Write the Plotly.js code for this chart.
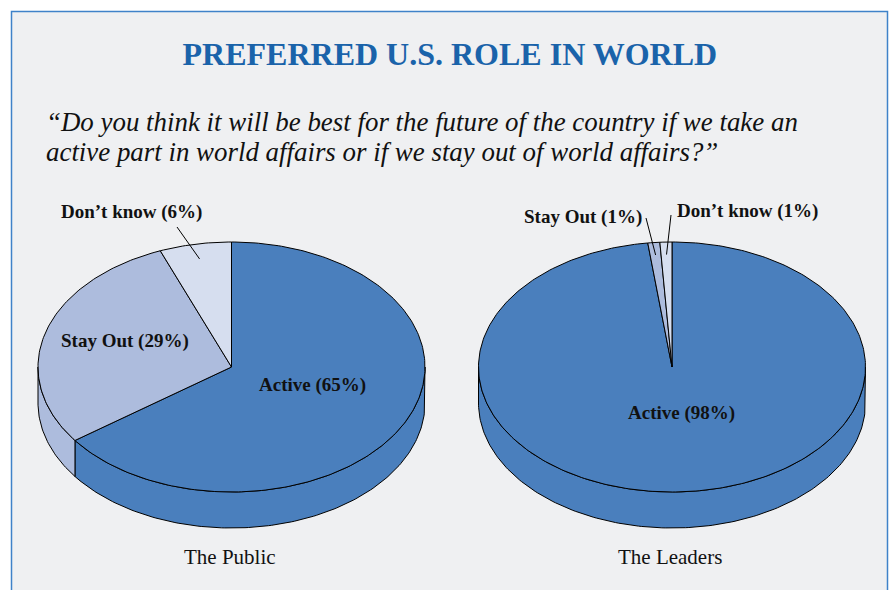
<!DOCTYPE html>
<html>
<head>
<meta charset="utf-8">
<script src="https://cdn.plot.ly/plotly-3.0.1.min.js"></script>
<style>
html,body{margin:0;padding:0;background:#ffffff;}
#chart{width:889px;height:590px;}
</style>
</head>
<body>
<div id="chart"></div>
<script>
// ---- data ----
const categories = ['Active', 'Stay Out', 'Don\u2019t know'];
const publicValues = [65, 29, 6];
const leaderValues = [98, 1, 1];
const pieNames = ['The Public', 'The Leaders'];
const chartTitle = 'PREFERRED U.S. ROLE IN WORLD';
const questionLines = [
  '\u201cDo you think it will be best for the future of the country if we take an',
  'active part in world affairs or if we stay out of world affairs?\u201d'
];

// ---- styles / geometry ----
const sliceColors = ['#4a7fbd', '#adbcdd', '#d6deef'];
const serif = 'Liberation Serif, Times New Roman, serif';
const pies = [
  {values: publicValues, name: pieNames[0], cx: 231.5, cy: 367, rx: 193.5, ry: 125, depth: 36,
   labels: [{x: 312, y: 385}, {x: 124.5, y: 341}, {x: 131.5, y: 212}],
   leaders: [null, null, {x: 177, y: 227, r: 0.88}], nameY: 557},
  {values: leaderValues, name: pieNames[1], cx: 672, cy: 367, rx: 193.5, ry: 125, depth: 36,
   labels: [{x: 681.5, y: 413}, {x: 583, y: 217}, {x: 747.5, y: 211}],
   leaders: [null, {x: 646, y: 218, r: 0.9}, {x: 671, y: 215, r: 0.9}], nameY: 557}
];

const traces = [];
const annotations = [];
const rad = d => d * Math.PI / 180;

pies.forEach(p => {
  const total = p.values.reduce((a, b) => a + b, 0);
  let start = 90;
  const slices = p.values.map((v, i) => {
    const sweep = v / total * 360;
    const s = {i: i, hi: start, lo: start - sweep};
    start -= sweep;
    return s;
  });
  const px = t => p.cx + p.rx * Math.cos(rad(t));
  const py = t => p.cy - p.ry * Math.sin(rad(t));

  // side walls (front half: angles -180..0)
  slices.forEach(s => {
    const lo = Math.max(s.lo, -180), hi = Math.min(s.hi, 0);
    if (hi <= lo) return;
    const xs = [], ys = [];
    const n = Math.max(2, Math.ceil((hi - lo) / 1));
    for (let k = 0; k <= n; k++) { const t = lo + (hi - lo) * k / n; xs.push(px(t)); ys.push(py(t)); }
    for (let k = n; k >= 0; k--) { const t = lo + (hi - lo) * k / n; xs.push(px(t)); ys.push(py(t) + p.depth); }
    xs.push(xs[0]); ys.push(ys[0]);
    traces.push({type: 'scatter', mode: 'lines', x: xs, y: ys, fill: 'toself',
      fillcolor: sliceColors[s.i], line: {color: '#000', width: 1}, hoverinfo: 'skip', showlegend: false});
  });
  // top faces
  slices.forEach(s => {
    const xs = [p.cx], ys = [p.cy];
    const n = Math.max(2, Math.ceil((s.hi - s.lo) / 1));
    for (let k = 0; k <= n; k++) { const t = s.hi - (s.hi - s.lo) * k / n; xs.push(px(t)); ys.push(py(t)); }
    xs.push(p.cx); ys.push(p.cy);
    traces.push({type: 'scatter', mode: 'lines', x: xs, y: ys, fill: 'toself',
      fillcolor: sliceColors[s.i], line: {color: '#000', width: 1}, hoverinfo: 'skip', showlegend: false});
  });
  // labels and leader lines
  slices.forEach(s => {
    const lab = p.labels[s.i];
    annotations.push({x: lab.x, y: lab.y, xref: 'x', yref: 'y', showarrow: false,
      text: '<b>' + categories[s.i] + ' (' + p.values[s.i] + '%)</b>',
      font: {family: serif, size: 19, color: '#111'}});
    const ld = p.leaders[s.i];
    if (ld) {
      const mid = (s.hi + s.lo) / 2;
      traces.push({type: 'scatter', mode: 'lines',
        x: [ld.x, p.cx + p.rx * ld.r * Math.cos(rad(mid))],
        y: [ld.y, p.cy - p.ry * ld.r * Math.sin(rad(mid))],
        line: {color: '#000', width: 1}, hoverinfo: 'skip', showlegend: false});
    }
  });
  annotations.push({x: p.cx - 2, y: p.nameY, xref: 'x', yref: 'y', showarrow: false,
    text: p.name, font: {family: serif, size: 21, color: '#111'}});
});

const qY = [122, 152];
questionLines.forEach((line, i) => {
  annotations.push({x: 44, y: qY[i], xref: 'x', yref: 'y', xanchor: 'left', yanchor: 'middle', align: 'left',
    showarrow: false, text: '<i>' + line + '</i>', font: {family: serif, size: 26.9, color: '#111'}});
});

const layout = {
  width: 889, height: 590,
  margin: {l: 0, r: 0, t: 0, b: 0},
  paper_bgcolor: '#ffffff', plot_bgcolor: 'rgba(0,0,0,0)',
  title: {text: '<b>' + chartTitle + '</b>', x: 0.506, xanchor: 'center', y: 0.908, yanchor: 'middle',
    font: {family: serif, size: 32, color: '#1a63aa'}},
  xaxis: {range: [0, 889], visible: false, fixedrange: true},
  yaxis: {range: [590, 0], visible: false, fixedrange: true},
  showlegend: false, hovermode: false,
  shapes: [{type: 'rect', xref: 'x', yref: 'y', x0: 11.5, x1: 887.5, y0: 11.5, y1: 620,
    fillcolor: '#eff0f2', line: {color: '#3f82c9', width: 1.5}, layer: 'below'}],
  annotations: annotations
};

Plotly.newPlot('chart', traces, layout, {displayModeBar: false, staticPlot: true});
</script>
</body>
</html>
